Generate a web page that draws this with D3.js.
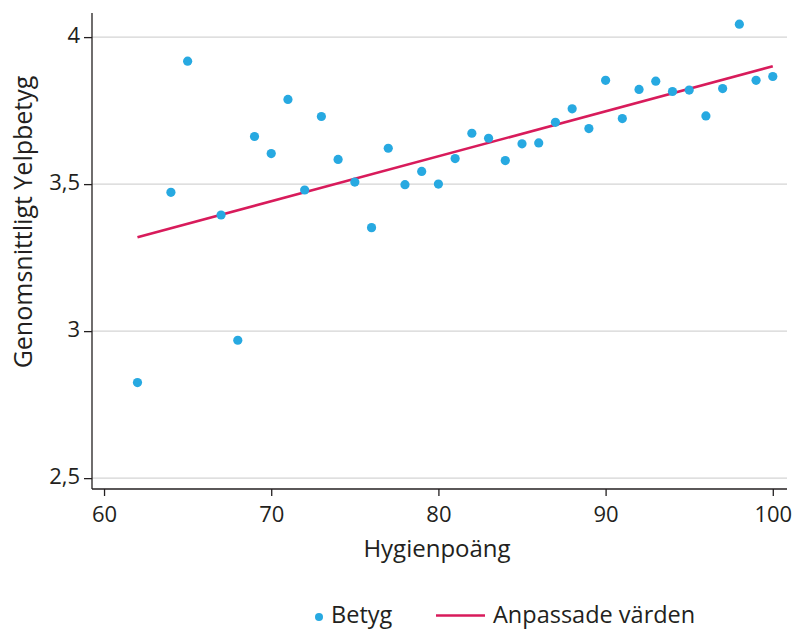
<!DOCTYPE html>
<html>
<head>
<meta charset="utf-8">
<script src="https://cdn.jsdelivr.net/npm/d3@7"></script>
<style>
  html, body { margin: 0; padding: 0; background: #fff; }
  svg { display: block; font-family: "Open Sans", sans-serif; }
</style>
</head>
<body>
<svg id="chart" width="795" height="630"></svg>
<script>
// Data
const hygieneScores = [62,64,65,67,68,69,70,71,72,73,74,75,76,77,78,79,80,81,82,83,84,85,86,87,88,89,90,91,92,93,94,95,96,97,98,99,100];
const avgRatings   = [2.825,3.472,3.918,3.395,2.969,3.662,3.604,3.788,3.480,3.730,3.584,3.507,3.352,3.622,3.498,3.543,3.500,3.587,3.673,3.656,3.580,3.637,3.640,3.710,3.756,3.689,3.853,3.723,3.822,3.850,3.815,3.820,3.732,3.825,4.044,3.853,3.866];
const fitX = [62, 100];
const fitY = [3.319, 3.901];
const xTicks = [60, 70, 80, 90, 100];
const yTicks = [2.5, 3, 3.5, 4];
const xTitle = "Hygienpoäng";
const yTitle = "Genomsnittligt Yelpbetyg";
const legendLabels = ["Betyg", "Anpassade värden"];

const dotColor = "#27a9e1";
const lineColor = "#d81b5b";
const ink = "#231f20";

const svg = d3.select("#chart");
const pL = 92, pR = 787, pT = 13, pB = 489;

const x = d3.scaleLinear().domain([59.28, 100.85]).range([pL, pR]);
const y = d3.scaleLinear().domain([2.463, 4.082]).range([pB, pT]);

// gridlines
svg.append("g").selectAll("line").data(yTicks).join("line")
  .attr("x1", pL).attr("x2", pR)
  .attr("y1", d => y(d)).attr("y2", d => y(d))
  .attr("stroke", "#d4d4d4").attr("stroke-width", 1.3);

// axes
const fmt = d => String(d).replace(".", ",");
const yAxis = svg.append("g").attr("transform", `translate(${pL},0)`)
  .call(d3.axisLeft(y).tickValues(yTicks).tickFormat(fmt).tickSize(8).tickPadding(4).tickSizeOuter(0));
const xAxis = svg.append("g").attr("transform", `translate(0,${pB})`)
  .call(d3.axisBottom(x).tickValues(xTicks).tickFormat(d => d).tickSize(7).tickPadding(10).tickSizeOuter(0));
[xAxis, yAxis].forEach(g => {
  g.select(".domain").attr("stroke", ink).attr("stroke-width", 1.3);
  g.selectAll(".tick line").attr("stroke", ink).attr("stroke-width", 1.3);
  g.selectAll(".tick text").attr("fill", ink).style("font-size", "22px").style("font-family", "'Open Sans', sans-serif");
});
yAxis.selectAll(".tick text").attr("dy", "0.25em");
yAxis.select(".domain").attr("d", `M0,${pT}V${pB}`);
xAxis.select(".domain").attr("d", `M${pL},0H${pR}`);

// fit line
const line = d3.line().x(d => x(d[0])).y(d => y(d[1]));
svg.append("path").datum(d3.zip(fitX, fitY))
  .attr("d", line).attr("fill", "none").attr("stroke", lineColor).attr("stroke-width", 2.6);

// points
svg.append("g").selectAll("circle").data(d3.zip(hygieneScores, avgRatings)).join("circle")
  .attr("cx", d => x(d[0])).attr("cy", d => y(d[1])).attr("r", 4.6).attr("fill", dotColor);

// titles
svg.append("text").attr("x", 437).attr("y", 557)
  .attr("text-anchor", "middle").attr("fill", ink).style("font-size", "24px").text(xTitle);
svg.append("text").attr("transform", `translate(32,222) rotate(-90)`)
  .attr("text-anchor", "middle").attr("fill", ink).style("font-size", "25px").text(yTitle);

// legend
const lg = svg.append("g");
lg.append("circle").attr("cx", 319).attr("cy", 617).attr("r", 4).attr("fill", dotColor);
lg.append("text").attr("x", 331).attr("y", 623).attr("fill", ink).style("font-size", "23.5px").text(legendLabels[0]);
lg.append("line").attr("x1", 436).attr("x2", 485).attr("y1", 615.5).attr("y2", 615.5)
  .attr("stroke", lineColor).attr("stroke-width", 2.6);
lg.append("text").attr("x", 493).attr("y", 623).attr("fill", ink).style("font-size", "23.5px").text(legendLabels[1]);
</script>
</body>
</html>
